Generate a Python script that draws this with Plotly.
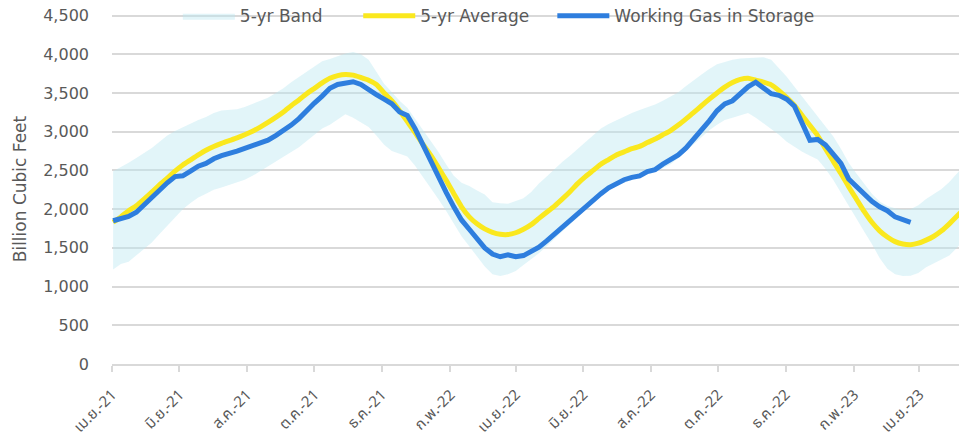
import pandas as pd
import plotly.graph_objects as go

# weekly dates (week ending Friday)
dates = pd.date_range("2021-04-02", periods=111, freq="7D")

avg_5yr = [1830, 1900, 1980, 2045, 2130, 2220, 2315, 2400, 2490, 2570,
           2635, 2700, 2760, 2810, 2850, 2885, 2920, 2960, 3005, 3060,
           3120, 3185, 3255, 3335, 3410, 3490, 3560, 3630, 3690, 3725,
           3740, 3730, 3700, 3665, 3610, 3500, 3400, 3270, 3130, 2990,
           2840, 2700, 2540, 2375, 2200, 2030, 1900, 1810, 1745, 1700,
           1675, 1672, 1695, 1740, 1800, 1880, 1960, 2040, 2130, 2225,
           2330, 2420, 2500, 2580, 2640, 2700, 2740, 2780, 2810, 2860,
           2905, 2960, 3015, 3085, 3165, 3250, 3335, 3420, 3500, 3575,
           3635, 3675, 3690, 3665, 3640, 3605, 3530, 3440, 3340, 3210,
           3080, 2950, 2780, 2620, 2460, 2290, 2130, 1970, 1830, 1720,
           1640, 1580, 1550, 1541, 1560, 1600, 1650, 1720, 1810, 1910,
           2015]

band_low = [1220, 1290, 1320, 1400, 1480, 1570, 1680, 1790, 1900, 2000,
            2080, 2150, 2200, 2250, 2280, 2310, 2340, 2380, 2430, 2490,
            2550, 2610, 2670, 2730, 2800, 2880, 2960, 3040, 3090, 3160,
            3225, 3180, 3120, 3060, 2950, 2830, 2750, 2710, 2680, 2560,
            2420, 2280, 2130, 1980, 1820, 1650, 1520, 1390, 1260, 1160,
            1135, 1160, 1200, 1280, 1350, 1430, 1520, 1620, 1710, 1800,
            1900, 1990, 2080, 2170, 2240, 2300, 2340, 2380, 2420, 2450,
            2480, 2530, 2580, 2660, 2750, 2830, 2930, 3020, 3090, 3150,
            3180, 3210, 3240, 3180, 3110, 3040, 2960, 2870, 2800, 2740,
            2690, 2640, 2520, 2380, 2210, 2050, 1880, 1710, 1550, 1370,
            1230, 1160, 1135, 1140, 1175, 1250, 1300, 1340, 1400, 1500,
            1620]

band_high = [2490, 2540, 2600, 2660, 2720, 2790, 2870, 2950, 3010, 3060,
             3110, 3150, 3190, 3240, 3275, 3285, 3290, 3320, 3360, 3395,
             3440, 3500, 3560, 3640, 3710, 3780, 3850, 3910, 3940, 3980,
             4010, 4030, 4000, 3930, 3780, 3620, 3510, 3400, 3310, 3170,
             3030, 2890, 2740, 2580, 2430, 2340, 2300, 2240, 2190, 2090,
             2075, 2070, 2100, 2140, 2220, 2330, 2420, 2520, 2610, 2690,
             2780, 2870, 2960, 3040, 3100, 3150, 3200, 3240, 3280, 3310,
             3350, 3400, 3450, 3510, 3590, 3670, 3740, 3810, 3870, 3900,
             3930, 3945, 3950, 3955, 3960, 3930, 3820, 3710, 3580, 3450,
             3330, 3200, 3060, 2940, 2780, 2600, 2460, 2330, 2200, 2100,
             2040, 2010, 1995, 2000, 2050, 2130, 2190, 2260, 2350, 2460,
             2570]

storage = [1850, 1880, 1905, 1960, 2060, 2140, 2240, 2340, 2420, 2430,
           2490, 2555, 2590, 2650, 2690, 2715, 2750, 2785, 2815, 2850,
           2890, 2950, 3015, 3085, 3170, 3280, 3370, 3460, 3560, 3610,
           3620, 3645, 3610, 3540, 3480, 3420, 3360, 3255, 3210, 3040,
           2830, 2620, 2430, 2220, 2030, 1860, 1740, 1610, 1500, 1420,
           1385, 1410, 1385, 1400, 1460, 1510, 1590, 1680, 1770, 1850,
           1930, 2040, 2130, 2200, 2275, 2330, 2380, 2410, 2430, 2485,
           2510, 2580, 2640, 2700, 2790, 2900, 3020, 3140, 3270, 3360,
           3400, 3500, 3580, 3640, 3560, 3490, 3470, 3420, 3330, 3100,
           2890, 2900, 2830, 2710, 2590, 2390, 2290, 2180, 2100, 2030,
           1980, 1900, 1860, 1830]

tick_dates = ["2021-04-01", "2021-06-01", "2021-08-01", "2021-10-01", "2021-12-01",
              "2022-02-01", "2022-04-01", "2022-06-01", "2022-08-01", "2022-10-01",
              "2022-12-01", "2023-02-01", "2023-04-01"]
tick_text = ["เม.ย.-21", "มิ.ย.-21", "ส.ค.-21", "ต.ค.-21", "ธ.ค.-21",
             "ก.พ.-22", "เม.ย.-22", "มิ.ย.-22", "ส.ค.-22", "ต.ค.-22",
             "ธ.ค.-22", "ก.พ.-23", "เม.ย.-23"]

FONT = "'DejaVu Sans', sans-serif"
THAI_FONT = "'Noto Sans Thai', 'DejaVu Sans', sans-serif"
GRID = "#d9d9d9"
TXT = "#595959"

fig = go.Figure()
fig.add_trace(go.Scatter(x=dates, y=band_low, mode="lines", line=dict(width=0),
                         showlegend=False, hoverinfo="skip"))
fig.add_trace(go.Scatter(x=dates, y=band_high, mode="lines", line=dict(width=0),
                         fill="tonexty", fillcolor="rgba(187,232,240,0.42)",
                         name="5-yr Band", legend="legend"))
fig.add_trace(go.Scatter(x=dates, y=avg_5yr, mode="lines",
                         line=dict(color="#FAE81E", width=5, shape="spline", smoothing=0.6),
                         name="5-yr Average", legend="legend2"))
fig.add_trace(go.Scatter(x=dates[:len(storage)], y=storage, mode="lines",
                         line=dict(color="#2E7EDE", width=5),
                         name="Working Gas in Storage", legend="legend3"))

# page body has an 8px margin, so the figure is offset by 8px
leg = dict(orientation="h", xanchor="left", y=0.994, yanchor="middle",
           bgcolor="rgba(0,0,0,0)", font=dict(size=17, color=TXT), itemwidth=52)
fig.update_layout(
    width=959, height=433,
    margin=dict(l=104, r=0, t=6.45, b=77, autoexpand=False),
    plot_bgcolor="white", paper_bgcolor="white",
    font=dict(family=FONT, size=14, color=TXT),
    showlegend=True,
    legend=dict(leg, x=0.077),
    legend2=dict(leg, x=0.288),
    legend3=dict(leg, x=0.515),
)
fig.update_xaxes(range=["2021-04-01", "2023-05-14"], tickvals=tick_dates, ticktext=tick_text,
                 tickangle=-45, showgrid=False, showline=True, linecolor=GRID, linewidth=2,
                 ticks="outside", ticklen=6, tickcolor=GRID, tickwidth=2, automargin=False,
                 ticklabelstandoff=8, ticklabeloverflow="allow",
                 tickfont=dict(family=THAI_FONT, size=15, color=TXT))
fig.update_yaxes(range=[0, 4520], tickvals=list(range(0, 4501, 500)), tickformat=",",
                 showgrid=True, gridcolor=GRID, gridwidth=2, zeroline=False,
                 ticklabelstandoff=22, automargin=False, ticklabeloverflow="allow",
                 tickfont=dict(size=16, color=TXT),
                 title=dict(text="Billion Cubic Feet", standoff=12, font=dict(size=17)))

fig.write_html("out.html")
